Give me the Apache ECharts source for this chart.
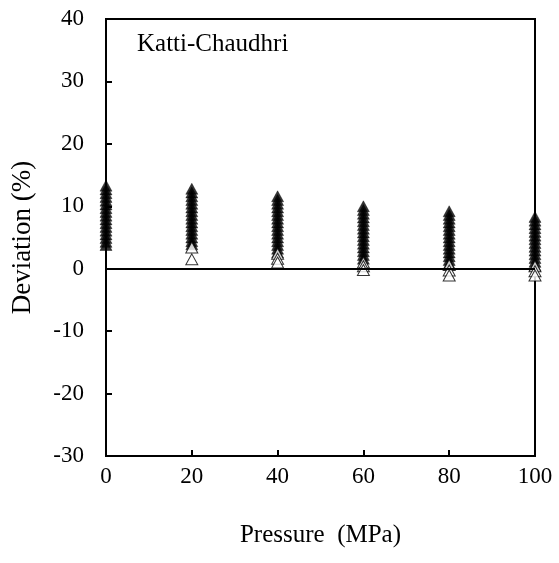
<!DOCTYPE html>
<html><head><meta charset="utf-8">
<script src="https://cdn.jsdelivr.net/npm/echarts@6/dist/echarts.min.js"></script>
<style>html,body{margin:0;padding:0;background:#fff}#c{width:559px;height:563px}</style>
</head><body><div id="c"></div>
<script>
const pressures = [0, 20, 40, 60, 80, 100];
const xTicks = [0, 20, 40, 60, 80, 100];
const yTicks = [-30, -20, -10, 0, 10, 20, 30, 40];
// filled triangles: deviations (%) at each pressure
const filledP0 = [13.3, 12.7, 12.1, 11.5, 10.9, 10.3, 9.7, 9.1, 8.5, 7.9, 7.3, 6.7, 6.1, 5.5, 4.9, 4.3, 3.8];
const filledP20 = [12.8, 12.2, 11.6, 11.0, 10.4, 9.8, 9.2, 8.6, 8.0, 7.4, 6.8, 6.2, 5.6, 5.0, 4.4, 3.9];
const filledP40 = [11.6, 11.0, 10.4, 9.8, 9.2, 8.6, 8.0, 7.4, 6.8, 6.2, 5.6, 5.0, 4.4, 3.8, 3.2, 2.6];
const filledP60 = [10.0, 9.4, 8.8, 8.2, 7.6, 7.0, 6.4, 5.8, 5.2, 4.6, 4.0, 3.4, 2.8, 2.2, 1.6];
const filledP80 = [9.2, 8.6, 8.0, 7.4, 6.8, 6.2, 5.6, 5.0, 4.4, 3.8, 3.2, 2.6, 2.0, 1.4, 0.8];
const filledP100 = [8.3, 7.7, 7.1, 6.5, 5.9, 5.3, 4.7, 4.1, 3.5, 2.9, 2.3, 1.7, 1.1, 0.5];
// open triangles
const openP0 = [];
const openP20 = [3.4, 1.5];
const openP40 = [2.4, 1.6, 1.0];
const openP60 = [1.0, 0.4, -0.2];
const openP80 = [0.6, -0.3, -1.1];
const openP100 = [0.4, -0.4, -1.1];

const filledSets = [filledP0, filledP20, filledP40, filledP60, filledP80, filledP100];
const openSets = [openP0, openP20, openP40, openP60, openP80, openP100];
function pairs(sets) {
  const out = [];
  sets.forEach((vals, i) => vals.forEach(v => out.push([pressures[i], v])));
  return out;
}
const F = 'Liberation Serif, Times New Roman, serif';
const chart = echarts.init(document.getElementById('c'));
chart.setOption({
  animation: false,
  backgroundColor: '#fff',
  grid: { left: 106, right: 24, top: 19, bottom: 107, show: true, borderColor: '#000', borderWidth: 2, containLabel: false },
  title: { text: 'Katti-Chaudhri', left: 132, top: 27, textStyle: { fontFamily: F, fontSize: 25, fontWeight: 'normal', color: '#000' } },
  xAxis: {
    type: 'value', min: xTicks[0], max: xTicks[xTicks.length - 1], interval: 20,
    name: 'Pressure  (MPa)', nameLocation: 'middle', nameGap: 67,
    nameTextStyle: { fontFamily: F, fontSize: 25, color: '#000' },
    axisLine: { show: true, onZero: false, lineStyle: { color: '#000', width: 2 } },
    axisTick: { show: true, inside: true, length: 6, lineStyle: { color: '#000', width: 2 } },
    axisLabel: { fontFamily: F, fontSize: 23, color: '#000', margin: 9 },
    splitLine: { show: false }
  },
  yAxis: {
    type: 'value', min: yTicks[0], max: yTicks[yTicks.length - 1], interval: 10,
    name: 'Deviation (%)', nameLocation: 'middle', nameGap: 70,
    nameTextStyle: { fontFamily: F, fontSize: 27, color: '#000' },
    axisLine: { show: true, lineStyle: { color: '#000', width: 2 } },
    axisTick: { show: true, inside: true, length: 6, lineStyle: { color: '#000', width: 2 } },
    axisLabel: { fontFamily: F, fontSize: 23, color: '#000', margin: 22 },
    splitLine: { show: false }
  },
  series: [
    {
      type: 'scatter', name: 'filled', symbol: 'triangle', symbolSize: [12, 11],
      itemStyle: { color: '#000', borderColor: '#000', borderWidth: 0.5 },
      data: pairs(filledSets),
      markLine: { silent: true, symbol: 'none', label: { show: false },
        lineStyle: { color: '#000', width: 2, type: 'solid' }, data: [{ yAxis: 0 }] },
      z: 2
    },
    {
      type: 'scatter', name: 'open', symbol: 'triangle', symbolSize: [12, 11],
      itemStyle: { color: '#fff', borderColor: '#000', borderWidth: 1 },
      data: pairs(openSets), z: 3
    }
  ]
});
</script></body></html>
